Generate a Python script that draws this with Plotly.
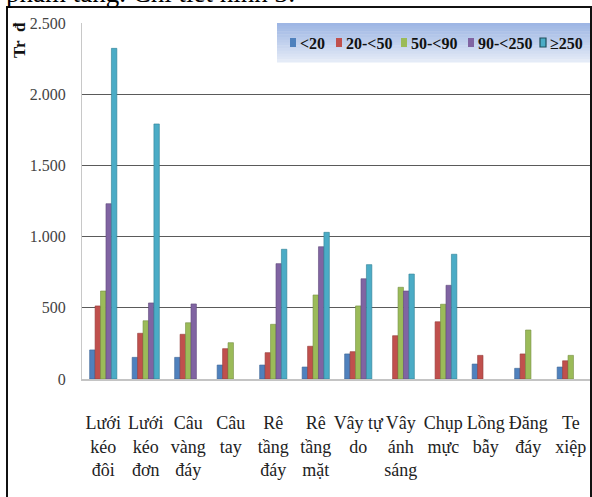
import plotly.graph_objects as go

# Fishing gear categories and value groups (Tr đ)
categories = [
    "Lưới<br>kéo<br>đôi", "Lưới<br>kéo<br>đơn", "Câu<br>vàng<br>đáy", "Câu<br>tay",
    "Rê<br>tầng<br>đáy", "Rê<br>tầng<br>mặt", "Vây tự<br>do", "Vây<br>ánh<br>sáng",
    "Chụp<br>mực", "Lồng<br>bẫy", "Đăng<br>đáy", "Te<br>xiệp",
]
series_names = ["<20", "20-<50", "50-<90", "90-<250", "≥250"]

lt20 = [204, 152, 152, 98, 98, 84, 176, None, None, 105, 75, 84]
v20_50 = [513, 321, 314, 213, 185, 230, 192, 304, 402, 166, 176, 128]
v50_90 = [618, 409, 395, 255, 384, 590, 513, 644, 525, None, 344, 166]
v90_250 = [1231, 534, 527, None, 810, 929, 704, 618, 658, None, None, None]
ge250 = [2322, 1791, None, None, 911, 1030, 803, 737, 876, None, None, None]
series_values = [lt20, v20_50, v50_90, v90_250, ge250]

y_tick_vals = [0, 500, 1000, 1500, 2000, 2500]
y_tick_text = ["0", "500", "1.000", "1.500", "2.000", "2.500"]

colors = ["#4F81BD", "#C0504D", "#9BBB59", "#8064A2", "#4BACC6"]
edges = ["#3A6393", "#943C3A", "#768F43", "#5F4A7A", "#2F7F94"]

W, H = 592, 497
L, R, T, B = 82, 0, 23, 118
PW, PH = W - L - R, H - T - B


def px(x):
    return (x - L) / PW


def py(y):
    return (H - B - y) / PH


fig = go.Figure()
for name, vals, c, e in zip(series_names, series_values, colors, edges):
    fig.add_trace(go.Bar(
        x=categories, y=vals, name=name,
        marker=dict(color=c, line=dict(color=e, width=0.6)),
        showlegend=False,
    ))

serif = "Liberation Serif, Times New Roman, serif"

shapes = []
annotations = []

# outer frame
shapes.append(dict(type="rect", xref="paper", yref="paper",
                   x0=px(7), x1=px(591), y0=py(520), y1=py(7),
                   line=dict(color="#111", width=2), fillcolor="rgba(0,0,0,0)",
                   layer="above"))

# legend box with vertical gradient
lx0, lx1, ly0, ly1 = 277, 590, 23, 62
n_strips = 14
top_rgb = (158, 182, 228)
bot_rgb = (228, 235, 247)
for i in range(n_strips):
    f = i / (n_strips - 1)
    rgb = tuple(int(a + (b - a) * f) for a, b in zip(top_rgb, bot_rgb))
    ya = ly0 + (ly1 - ly0) * i / n_strips
    yb = ly0 + (ly1 - ly0) * (i + 1) / n_strips
    shapes.append(dict(type="rect", xref="paper", yref="paper",
                       x0=px(lx0), x1=px(lx1), y0=py(yb + 0.5), y1=py(ya),
                       line=dict(width=0), fillcolor="rgb(%d,%d,%d)" % rgb,
                       layer="above"))

legend_sq_x = [290, 336, 401, 468, 540]
for name, c, e, sx in zip(series_names, colors, edges, legend_sq_x):
    is_last = name == series_names[-1]
    shapes.append(dict(type="rect", xref="paper", yref="paper",
                       x0=px(sx), x1=px(sx + 6), y0=py(47), y1=py(38),
                       line=dict(color="#1f4e5c" if is_last else c,
                                 width=1.2 if is_last else 0),
                       fillcolor=c, layer="above"))
    annotations.append(dict(xref="paper", yref="paper", x=px(sx + 7.5), y=py(43),
                            xanchor="left", yanchor="middle", text="<b>%s</b>" % name,
                            showarrow=False,
                            font=dict(family=serif, size=16, color="#111")))

# axis title
annotations.append(dict(xref="paper", yref="paper", x=px(20), y=py(40),
                        text="<b>Tr&nbsp;&nbsp;đ</b>", textangle=-90, showarrow=False,
                        xanchor="center", yanchor="middle",
                        font=dict(family=serif, size=17, color="#111")))

# caption line running above the frame
annotations.append(dict(xref="paper", yref="paper", x=px(4), y=py(10),
                        text="phẩm tăng. Chi tiết hình 3:", showarrow=False,
                        xanchor="left", yanchor="bottom",
                        font=dict(family=serif, size=27, color="#000")))

fig.update_layout(
    width=W, height=H,
    margin=dict(l=L, r=R, t=T, b=B, pad=0),
    paper_bgcolor="white", plot_bgcolor="white",
    barmode="group", bargap=0.36, bargroupgap=0,
    shapes=shapes, annotations=annotations,
    showlegend=False,
)
fig.update_xaxes(
    type="category", showgrid=False, showline=True, linecolor="#c4c4c4", linewidth=1.5,
    ticks="", tickfont=dict(family=serif, size=18, color="#222"),
    ticklabelstandoff=27, tickangle=0,
)
fig.update_yaxes(
    range=[0, 2500], tickvals=y_tick_vals, ticktext=y_tick_text,
    showgrid=True, gridcolor="#5a5a5a", gridwidth=1,
    showline=True, linecolor="#c8c8c8", linewidth=1,
    zeroline=False, ticks="",
    tickfont=dict(family=serif, size=16, color="#444"),
    ticklabelstandoff=12,
)

fig.write_html("out.html")
